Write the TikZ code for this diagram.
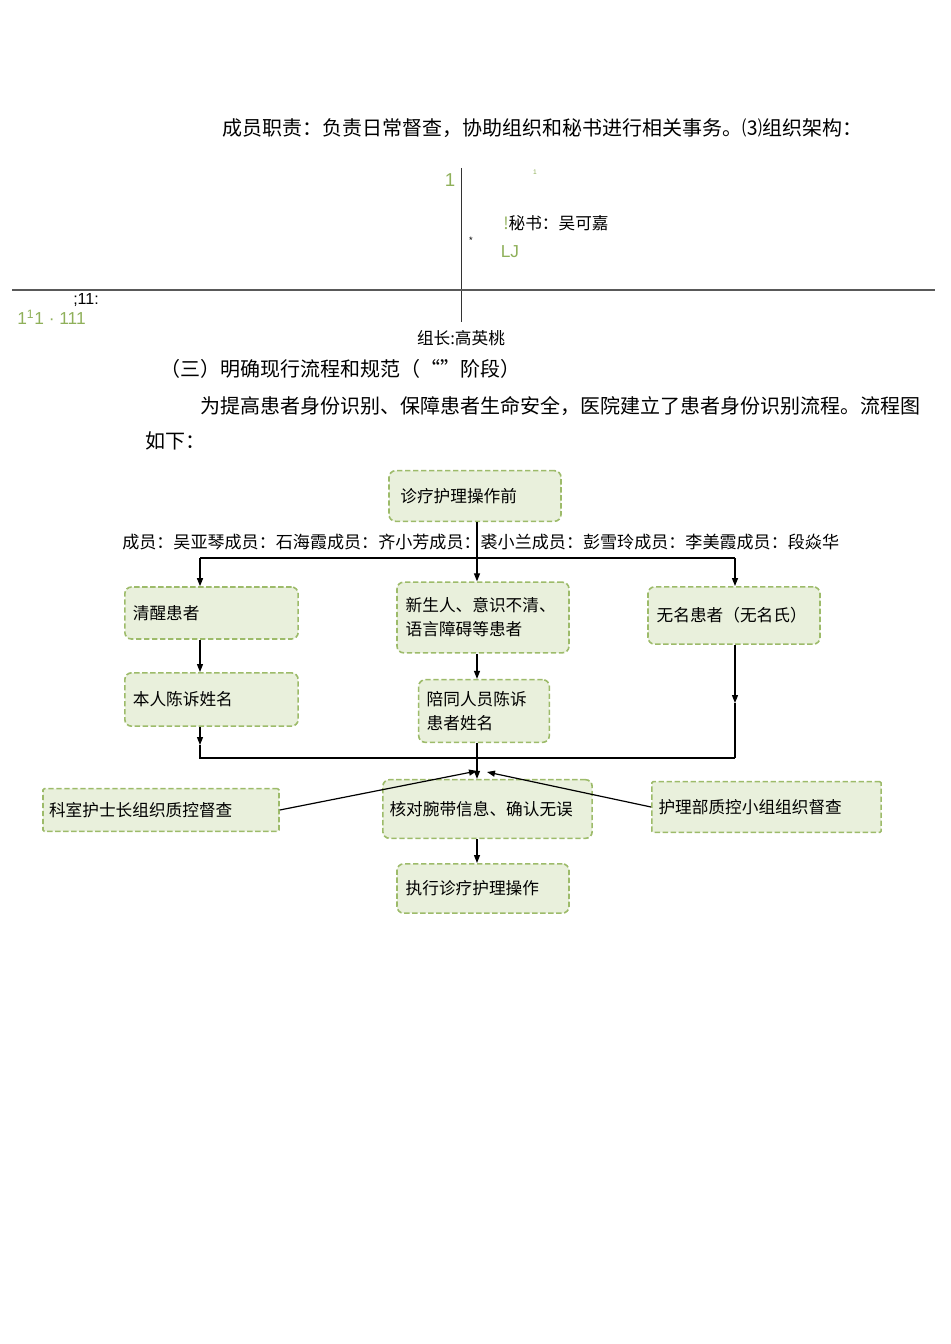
\documentclass[tikz,border=0pt]{standalone}
\usepackage{fontspec}
\setmainfont{Noto Sans CJK SC}
\newfontfamily\lat{Liberation Sans}
\usetikzlibrary{arrows.meta}
\definecolor{bfill}{HTML}{E9F0DC}
\definecolor{bdraw}{HTML}{9DBB6A}
\definecolor{gtxt}{HTML}{8FB05A}
\begin{document}
\begin{tikzpicture}[x=0.75pt,y=-0.75pt,
 box/.style={draw=bdraw,fill=bfill,dashed,line width=1.2pt,dash pattern=on 4pt off 2pt,rounded corners=5pt,inner sep=0pt,font=\fontsize{12.5}{18}\selectfont,align=left},
 ln/.style={line width=0.9pt},
 ar/.style={ln,-{Triangle[length=6pt,width=4.5pt]}},
 tx/.style={font=\fontsize{15}{18}\selectfont,inner sep=0pt}]
\useasboundingbox (0,0) rectangle (950,1344);
\node[tx,anchor=west] (t1) at (222,128) {成员职责：负责日常督查，协助组织和秘书进行相关事务。⑶组织架构：};
% org fragment
\coordinate (v1) at (461,168); \coordinate (v2) at (461,322);
\coordinate (h1) at (12,290); \coordinate (h2) at (935,290);
\draw[line width=0.6pt,black!80] (v1)--(v2);
\draw[line width=0.8pt,black!65] (h1)--(h2);
\node[font=\lat\fontsize{14}{14}\selectfont,text=gtxt] (g1) at (450,180) {1};
\node[font=\lat\fontsize{5}{5}\selectfont,text=gtxt] (g2) at (535,172) {1};
\node[anchor=west,inner sep=0pt,font=\fontsize{12.5}{14}\selectfont] (ms) at (503,223) {\textcolor{gtxt}{!}秘书：吴可嘉};
\node[font=\lat\fontsize{7}{7}\selectfont] (st) at (471,240) {*};
\node[font=\lat\fontsize{13}{13}\selectfont,text=gtxt] (lj) at (510,252) {LJ};
\node[anchor=west,font=\lat\fontsize{12}{12}\selectfont,inner sep=0pt] (s11) at (73,300) {;11:};
\node[anchor=west,font=\lat\fontsize{13}{13}\selectfont,text=gtxt,inner sep=0pt] (s111) at (17,317) {1\textsuperscript{1}1 · 111};
\node[font=\fontsize{12.5}{14}\selectfont,inner sep=0pt] (zz) at (461,338) {组长:高英桃};
\node[tx,anchor=west] (t2) at (160,369) {（三）明确现行流程和规范（“”阶段）};
\node[tx,anchor=west] (t3) at (200,406) {为提高患者身份识别、保障患者生命安全，医院建立了患者身份识别流程。流程图};
\node[tx,anchor=west] (t4) at (145,441) {如下：};
% flowchart
\node[box,minimum width=129pt,minimum height=38pt,text width=112pt] (a) at (475,496) {诊疗护理操作前};
\node[anchor=west,inner sep=0pt,font=\fontsize{12.8}{14}\selectfont] (mem) at (122,542) {成员：吴亚琴成员：石海霞成员：齐小芳成员：裘小兰成员：彭雪玲成员：李美霞成员：段焱华};
\node[box,minimum width=130pt,minimum height=39pt,text width=118pt] (b1) at (211.5,613) {清醒患者\\[4pt]};
\node[box,minimum width=129pt,minimum height=53pt,text width=116pt] (b2) at (483,617.5) {新生人、意识不清、\\语言障碍等患者};
\node[box,minimum width=129pt,minimum height=43pt,text width=116pt] (b3) at (734,615.5) {无名患者（无名氏）};
\node[box,minimum width=130pt,minimum height=40pt,text width=118pt] (c1) at (211.5,699.5) {本人陈诉姓名\\[4pt]};
\node[box,minimum width=98pt,minimum height=47pt,text width=86pt] (c2) at (484,711) {陪同人员陈诉\\患者姓名};
\node[box,minimum width=177pt,minimum height=32pt,rounded corners=1pt,text width=168pt] (k1) at (161,810) {科室护士长组织质控督查};
\node[box,minimum width=157pt,minimum height=44pt,text width=147pt] (k2) at (487.5,809) {核对腕带信息、确认无误};
\node[box,minimum width=172pt,minimum height=38pt,rounded corners=1pt,text width=162pt] (k3) at (766.5,807) {护理部质控小组组织督查\\[6pt]};
\node[box,minimum width=129pt,minimum height=37pt,text width=116pt] (e) at (483,888.5) {执行诊疗护理操作};
\coordinate (jL) at (200,558); \coordinate (jR) at (735,558);
\coordinate (m1) at (477,558);
\coordinate (d1) at (200,758); \coordinate (d3) at (735,758);
\coordinate (a3) at (735,703);
\coordinate (p1) at (477,771); \coordinate (p2) at (487,772);
\draw[ar] (a.south -| m1) -- (m1 |- b2.north);
\draw[ln] (jL)--(jR);
\draw[ar] (jL)--(b1.north -| jL);
\draw[ar] (jR)--(b3.north -| jR);
\draw[ar] (b1.south -| jL)--(c1.north -| jL);
\draw[ar] (b2.south -| m1)--(c2.north -| m1);
\draw[ar] (b3.south -| jR)--(a3);
\draw[ln] (a3)--(d3);
\draw[ar] (c1.south -| jL)--(200,745);
\draw[ln] (200,745)--(d1)--(d3);
\draw[ar] (c2.south -| m1)--(k2.north -| m1);
\draw[ar] (k1.east)--(p1);
\draw[ar] (k3.west)--(p2);
\draw[ar] (k2.south -| m1)--(e.north -| m1);
\end{tikzpicture}
\end{document}
